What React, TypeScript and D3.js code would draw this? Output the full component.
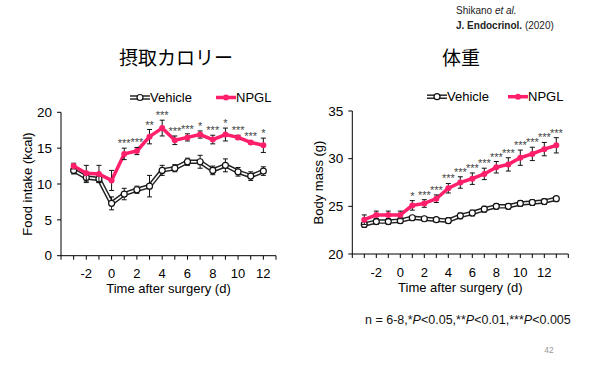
import React from 'react';
import * as d3 from 'd3';

// food intake (kcal), days -3..12
const foodDays = [-3, -2, -1, 0, 1, 2, 3, 4, 5, 6, 7, 8, 9, 10, 11, 12];
const foodVehicle = [11.9, 10.9, 10.7, 7.3, 8.6, 9.2, 9.7, 11.9, 12.2, 13.1, 13.1, 11.9, 12.6, 11.7, 11.1, 11.8];
const foodVehicleErr = [0.5, 0.7, 0.5, 0.9, 0.8, 0.5, 1.5, 0.7, 0.5, 0.5, 0.9, 0.6, 0.9, 0.6, 0.6, 0.6];
const foodNpgl = [12.5, 11.5, 11.4, 10.5, 14.2, 14.6, 16.6, 17.8, 16.1, 16.5, 16.9, 16.2, 16.9, 16.5, 15.8, 15.4];
const foodNpglErr = [0.4, 1.1, 1.2, 1.4, 0.8, 0.5, 1.0, 1.1, 0.6, 0.5, 0.5, 0.6, 0.9, 0.3, 0.2, 1.0];
const foodStars = ['', '', '', '', '***', '***', '**', '***', '***', '***', '*', '***', '*', '***', '***', '*'];
const foodYTicks = [0, 5, 10, 15, 20];

// body mass (g), days -3..13
const bodyDays = [-3, -2, -1, 0, 1, 2, 3, 4, 5, 6, 7, 8, 9, 10, 11, 12, 13];
const bodyVehicle = [23.1, 23.4, 23.4, 23.5, 23.8, 23.7, 23.6, 23.5, 24.0, 24.3, 24.7, 25.0, 25.0, 25.3, 25.4, 25.5, 25.8];
const bodyVehicleErr = [0.3, 0.3, 0.3, 0.3, 0.2, 0.2, 0.2, 0.3, 0.3, 0.3, 0.3, 0.3, 0.3, 0.3, 0.3, 0.3, 0.2];
const bodyNpgl = [23.6, 24.1, 24.1, 24.1, 25.1, 25.3, 25.8, 26.9, 27.5, 27.9, 28.4, 29.1, 29.4, 30.1, 30.5, 31.0, 31.4];
const bodyNpglErr = [0.5, 0.4, 0.4, 0.4, 0.5, 0.4, 0.4, 0.5, 0.6, 0.6, 0.6, 0.6, 0.7, 0.8, 0.7, 0.7, 0.8];
const bodyStars = ['', '', '', '', '*', '***', '***', '***', '***', '***', '***', '***', '***', '***', '***', '***', '***'];
const bodyYTicks = [20, 25, 30, 35];

const xLabels = [-2, 0, 2, 4, 6, 8, 10, 12];

const PINK = '#ff1f6b';
const FONT = 'Arial, "Liberation Sans", sans-serif';
const CJK = '"Noto Sans CJK JP", sans-serif';

type PanelProps = {
  days: number[];
  vehicle: number[];
  vehicleErr: number[];
  npgl: number[];
  npglErr: number[];
  stars: string[];
  yTicks: number[];
  xDomain: [number, number];
  xRange: [number, number];
  yRange: [number, number];
  yTitle: string;
  yTitleX: number;
  legendX: [number, number];
  legendW: number;
  legendY: number;
};

function Panel(p: PanelProps) {
  const x = d3.scaleLinear().domain(p.xDomain).range(p.xRange);
  const yd = d3.extent(p.yTicks) as [number, number];
  const y = d3.scaleLinear().domain(yd).range(p.yRange);
  const line = d3.line<number>().x((_, i) => x(p.days[i])).y(d => y(d));
  const xTicks = d3.range(p.xDomain[0], p.xDomain[1] + 1);
  const x0 = p.xRange[0];
  const y0 = p.yRange[0];
  const midX = (p.xRange[0] + p.xRange[1]) / 2;

  const errBars = (vals: number[], errs: number[]) =>
    vals.map((v, i) => {
      const cx = x(p.days[i]);
      return (
        <g key={i} stroke="#111" strokeWidth={1}>
          <line x1={cx} x2={cx} y1={y(v - errs[i])} y2={y(v + errs[i])} />
          <line x1={cx - 2.5} x2={cx + 2.5} y1={y(v - errs[i])} y2={y(v - errs[i])} />
          <line x1={cx - 2.5} x2={cx + 2.5} y1={y(v + errs[i])} y2={y(v + errs[i])} />
        </g>
      );
    });

  const [lv, ln] = p.legendX;
  return (
    <g fontFamily={FONT}>
      {/* axes */}
      <line x1={x0} x2={x0} y1={p.yRange[1]} y2={y0} stroke="#000" strokeWidth={1} />
      <line x1={x0} x2={p.xRange[1]} y1={y0} y2={y0} stroke="#000" strokeWidth={1} />
      {p.yTicks.map(t => (
        <g key={t}>
          <line x1={x0 - 4} x2={x0} y1={y(t)} y2={y(t)} stroke="#000" />
          <text x={x0 - 9} y={y(t)} dy="0.35em" textAnchor="end" fontSize={13.5}>{t}</text>
        </g>
      ))}
      {xTicks.map(t => (
        <line key={t} x1={x(t)} x2={x(t)} y1={y0} y2={y0 + 4} stroke="#000" />
      ))}
      {xLabels.map(t => (
        <text key={t} x={x(t)} y={y0 + 18} dy="0.35em" textAnchor="middle" fontSize={13}>{t}</text>
      ))}
      <text x={midX} y={y0 + 33} dy="0.35em" textAnchor="middle" fontSize={13}>Time after surgery (d)</text>
      <text transform={`translate(${p.yTitleX},${(p.yRange[0] + p.yRange[1]) / 2}) rotate(-90)`} dy="0.35em" textAnchor="middle" fontSize={13}>{p.yTitle}</text>

      {/* vehicle */}
      <path d={line(p.vehicle) ?? ''} fill="none" stroke="#222" strokeWidth={4.5} strokeLinejoin="round" />
      <path d={line(p.vehicle) ?? ''} fill="none" stroke="#fff" strokeWidth={1.6} strokeLinejoin="round" />
      {errBars(p.vehicle, p.vehicleErr)}
      {p.vehicle.map((v, i) => (
        <circle key={i} cx={x(p.days[i])} cy={y(v)} r={3} fill="#fff" stroke="#111" strokeWidth={1.2} />
      ))}

      {/* NPGL */}
      <path d={line(p.npgl) ?? ''} fill="none" stroke={PINK} strokeWidth={3.5} strokeLinejoin="round" />
      {errBars(p.npgl, p.npglErr)}
      {p.npgl.map((v, i) => (
        <circle key={i} cx={x(p.days[i])} cy={y(v)} r={3} fill={PINK} />
      ))}
      {p.stars.map((s, i) => s ? (
        <text key={i} x={x(p.days[i])} y={y(p.npgl[i] + p.npglErr[i]) - 1} textAnchor="middle" fontSize={11} fill="#444">{s}</text>
      ) : null)}

      {/* legend */}
      <g>
        <line x1={lv} x2={lv + p.legendW} y1={p.legendY} y2={p.legendY} stroke="#222" strokeWidth={4.5} />
        <line x1={lv} x2={lv + p.legendW} y1={p.legendY} y2={p.legendY} stroke="#fff" strokeWidth={1.6} />
        <circle cx={lv + p.legendW / 2} cy={p.legendY} r={3} fill="#fff" stroke="#111" strokeWidth={1.2} />
        <text x={lv + p.legendW} y={p.legendY} dy="0.35em" fontSize={13}>Vehicle</text>
        <line x1={ln} x2={ln + p.legendW} y1={p.legendY} y2={p.legendY} stroke={PINK} strokeWidth={3.5} />
        <circle cx={ln + p.legendW / 2} cy={p.legendY} r={3} fill={PINK} />
        <text x={ln + p.legendW} y={p.legendY} dy="0.35em" fontSize={13}>NPGL</text>
      </g>
    </g>
  );
}

export default function App() {
  return (
    <svg width={607} height={366} style={{ position: 'absolute', left: 0, top: 0, background: '#fff' }}>
      <rect width={607} height={366} fill="#fff" />
      <text x={456} y={10} dy="0.35em" fontFamily={FONT} fontSize={10} fill="#222">
        Shikano <tspan fontStyle="italic">et al.</tspan>
      </text>
      <text x={456} y={25} dy="0.35em" fontFamily={FONT} fontSize={10} fill="#222">
        <tspan fontWeight="bold">J. Endocrinol.</tspan> (2020)
      </text>
      <text x={176} y={58} dy="0.35em" textAnchor="middle" fontFamily={CJK} fontSize={19}>摂取カロリー</text>
      <text x={461} y={58} dy="0.35em" textAnchor="middle" fontFamily={CJK} fontSize={19}>体重</text>

      <Panel
        days={foodDays} vehicle={foodVehicle} vehicleErr={foodVehicleErr}
        npgl={foodNpgl} npglErr={foodNpglErr} stars={foodStars} yTicks={foodYTicks}
        xDomain={[-4, 13]} xRange={[61, 276]} yRange={[255.7, 112.3]}
        yTitle="Food intake (kcal)" yTitleX={27}
        legendX={[130, 216]} legendW={20} legendY={97.5}
      />
      <Panel
        days={bodyDays} vehicle={bodyVehicle} vehicleErr={bodyVehicleErr}
        npgl={bodyNpgl} npglErr={bodyNpglErr} stars={bodyStars} yTicks={bodyYTicks}
        xDomain={[-4, 14]} xRange={[352.3, 568.3]} yRange={[254, 111]}
        yTitle="Body mass (g)" yTitleX={318}
        legendX={[427, 508]} legendW={20} legendY={96.7}
      />

      <text x={365} y={320} dy="0.35em" fontFamily={FONT} fontSize={12.5} fill="#111">
        n = 6-8,*<tspan fontStyle="italic">P</tspan>&lt;0.05,**<tspan fontStyle="italic">P</tspan>&lt;0.01,***<tspan fontStyle="italic">P</tspan>&lt;0.005
      </text>
      <text x={549} y={350} dy="0.35em" textAnchor="middle" fontFamily={FONT} fontSize={8.5} fill="#999">42</text>
    </svg>
  );
}
